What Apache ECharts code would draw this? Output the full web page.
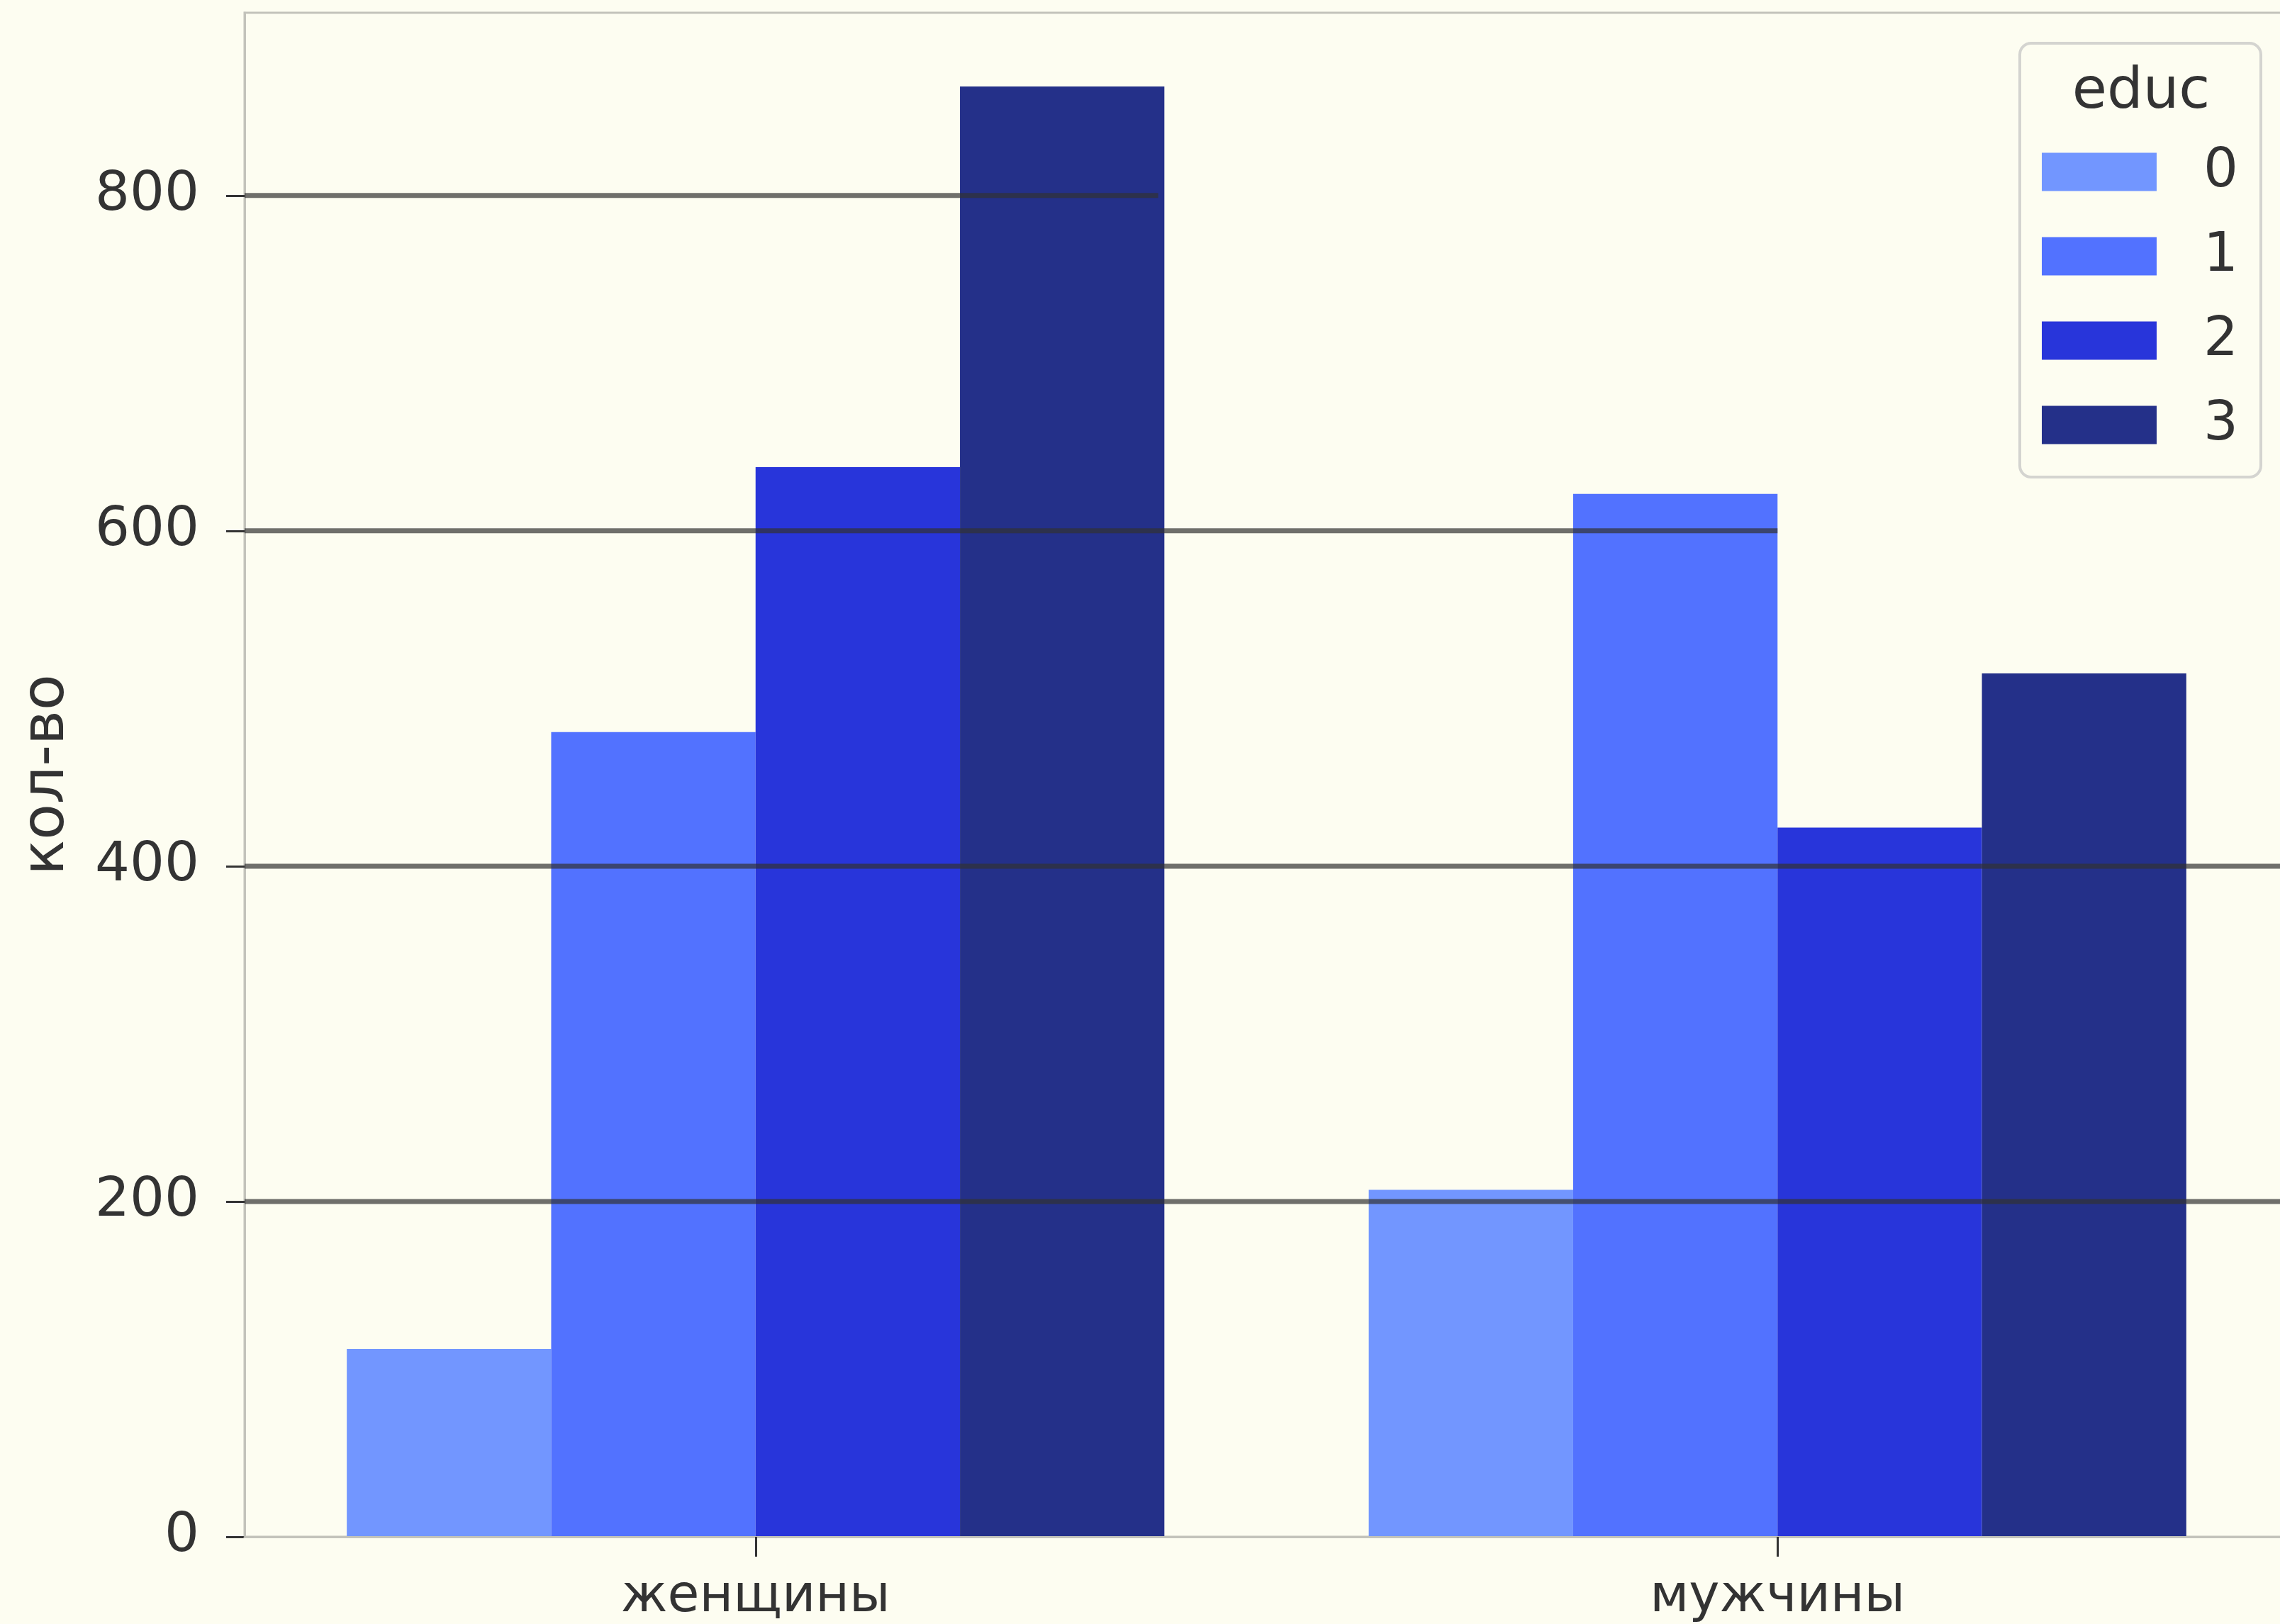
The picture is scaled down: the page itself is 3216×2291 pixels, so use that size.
<!DOCTYPE html>
<html>
<head>
<meta charset="utf-8">
<script src="https://cdn.jsdelivr.net/npm/echarts@6/dist/echarts.min.js"></script>
<style>
html,body{margin:0;padding:0;background:#fdfdf1;}
#c{width:3216px;height:2291px;}
</style>
</head>
<body>
<div id="c"></div>
<script>
// ---- data ----
const categories = ['женщины', 'мужчины'];
const seriesNames = ['0', '1', '2', '3'];
const educ0 = [112, 207];
const educ1 = [480, 622];
const educ2 = [638, 423];
const educ3 = [865, 515];
const yTicks = [0, 200, 400, 600, 800];
// horizontal reference lines: level and fraction of plot width they span
const refLevels = [200, 400, 600, 800];
const refSpan = [1, 1, 0.75, 0.447];

const colors = ['#7296ff', '#5272ff', '#2835da', '#243089'];
const textColor = '#333333';
const FONT = 'DejaVu Sans';
const FS = 77;

const chart = echarts.init(document.getElementById('c'), null, {renderer: 'canvas'});

const barData = [educ0, educ1, educ2, educ3];
const series = barData.map((d, i) => ({
  name: seriesNames[i],
  type: 'bar',
  data: d,
  xAxisIndex: 0,
  yAxisIndex: 0,
  itemStyle: {color: colors[i]},
  barGap: '0%',
  barCategoryGap: '20%',
  z: 2,
  silent: true
}));

refLevels.forEach((lv, i) => {
  series.push({
    type: 'line',
    xAxisIndex: 1,
    yAxisIndex: 0,
    data: [[0, lv], [refSpan[i], lv]],
    symbol: 'none',
    lineStyle: {color: 'rgba(50,50,50,0.7)', width: 7, cap: 'butt'},
    z: 5,
    silent: true,
    animation: false
  });
});

chart.setOption({
  animation: false,
  backgroundColor: '#fdfdf1',
  textStyle: {fontFamily: FONT},
  grid: {
    left: 345, right: -12, top: 18, bottom: 2291 - 2168,
    show: true, borderColor: '#c3c3bb', borderWidth: 3,
    backgroundColor: 'transparent', containLabel: false,
    outerBoundsMode: 'none'
  },
  legend: {
    data: seriesNames,
    orient: 'vertical',
    left: 2880,
    top: 204,
    padding: 0,
    z: 20,
    itemWidth: 162,
    itemHeight: 54,
    itemGap: 42,
    icon: 'rect',
    selectedMode: false,
    textStyle: {
      fontFamily: FONT, fontSize: FS, color: textColor,
      padding: [0, 0, 0, 61]
    }
  },
  graphic: [
    {
      type: 'rect', z: 1,
      shape: {x: 2849, y: 61, width: 340, height: 612, r: 16},
      style: {fill: 'rgba(253,253,241,0.8)', stroke: '#d4d4d0', lineWidth: 4}
    },
    {
      type: 'text', z: 2,
      x: 3020, y: 131,
      style: {text: 'educ', fontFamily: FONT, fontSize: 80, fill: textColor,
        align: 'center', verticalAlign: 'middle'}
    }
  ],
  xAxis: [
    {
      type: 'category',
      data: categories,
      axisLine: {show: true, lineStyle: {color: '#c3c3bb', width: 3}},
      axisTick: {show: true, alignWithLabel: true, length: 28,
        lineStyle: {color: textColor, width: 3}},
      axisLabel: {fontFamily: FONT, fontSize: 73, color: textColor, margin: 50},
      splitLine: {show: false},
      z: 3
    },
    {
      type: 'value', min: 0, max: 1, show: false,
      splitLine: {show: false}
    }
  ],
  yAxis: {
    type: 'value',
    min: 0, max: 909, interval: 200,
    name: 'кол-во',
    nameLocation: 'middle',
    nameGap: 236,
    nameRotate: 90,
    nameTextStyle: {fontFamily: FONT, fontSize: 83, color: textColor},
    axisLine: {show: true, lineStyle: {color: '#c3c3bb', width: 3}},
    axisTick: {show: true, length: 26, customValues: yTicks,
      lineStyle: {color: textColor, width: 3}},
    axisLabel: {fontFamily: FONT, fontSize: FS, color: textColor, margin: 64,
      customValues: yTicks},
    splitLine: {show: false}
  },
  series: series
});
</script>
</body>
</html>
